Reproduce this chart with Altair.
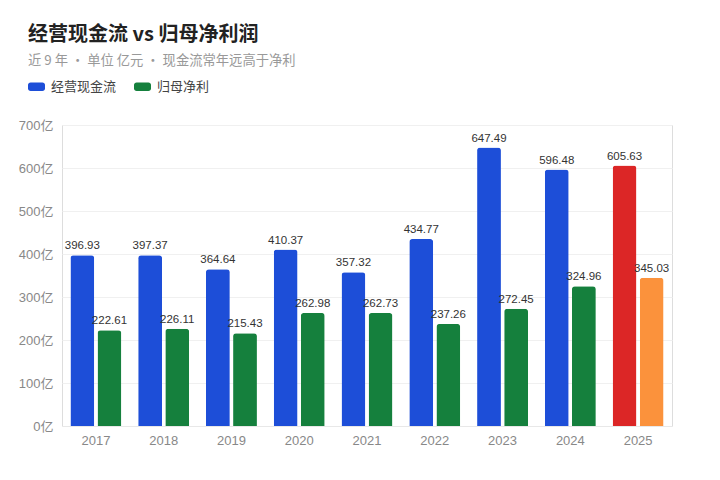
import altair as alt
import pandas as pd

years = ["2017", "2018", "2019", "2020", "2021", "2022", "2023", "2024", "2025"]
cash_flow = [396.93, 397.37, 364.64, 410.37, 357.32, 434.77, 647.49, 596.48, 605.63]
net_profit = [222.61, 226.11, 215.43, 262.98, 262.73, 237.26, 272.45, 324.96, 345.03]
series_names = ["经营现金流", "归母净利"]
highlight_year = "2025"
color_keys = ["经营现金流", "归母净利", "经营现金流 2025", "归母净利 2025"]
color_values = ["#1d4ed8", "#15803d", "#dc2626", "#fb923c"]

rows = []
for y, c, n in zip(years, cash_flow, net_profit):
    for s, v in zip(series_names, [c, n]):
        key = s if y != highlight_year else s + " 2025"
        rows.append({"year": y, "series": s, "value": v, "key": key})
df = pd.DataFrame(rows)

FONT = "Noto Sans CJK SC"
NUMFONT = "Liberation Sans, Noto Sans CJK SC"
legend_shape = ("M-0.7,-0.5 L0.7,-0.5 A0.3,0.3 0 0 1 1,-0.2 L1,0.2 A0.3,0.3 0 0 1 0.7,0.5 "
                "L-0.7,0.5 A0.3,0.3 0 0 1 -1,0.2 L-1,-0.2 A0.3,0.3 0 0 1 -0.7,-0.5 Z")

x_enc = alt.X("year:N", sort=years, title=None,
              scale=alt.Scale(paddingInner=0.248, paddingOuter=0.124),
              axis=alt.Axis(labelAngle=0, labelFontSize=13, labelColor="#888",
                            labelFont=NUMFONT, ticks=False, domain=True,
                            domainColor="#e8e8e8", labelPadding=8, grid=False))
xo_enc = alt.XOffset("series:N", sort=series_names,
                     scale=alt.Scale(paddingInner=0.12, paddingOuter=0))
y_enc = alt.Y("value:Q", title=None,
              scale=alt.Scale(domain=[0, 700]),
              axis=alt.Axis(values=[0, 100, 200, 300, 400, 500, 600, 700],
                            labelExpr="datum.value + '亿'", labelFontSize=13,
                            labelColor="#888", labelFont=NUMFONT, ticks=False,
                            domain=False, gridColor="#f0f0f0", labelPadding=9))

bars = alt.Chart(df).mark_bar(cornerRadiusTopLeft=3, cornerRadiusTopRight=3).encode(
    x=x_enc, xOffset=xo_enc, y=y_enc,
    color=alt.Color("key:N",
                    scale=alt.Scale(domain=color_keys, range=color_values),
                    legend=alt.Legend(values=series_names, title=None, orient="none",
                                      legendX=-34, legendY=-47, direction="horizontal",
                                      symbolType=legend_shape, symbolSize=289,
                                      symbolStrokeWidth=0, labelFontSize=13,
                                      labelColor="#444", labelFont=FONT,
                                      columnPadding=16, labelOffset=6)),
)

labels = alt.Chart(df).mark_text(baseline="bottom", dy=-4, fontSize=11.5,
                                 color="#333", font=NUMFONT).encode(
    x=alt.X("year:N", sort=years), xOffset=alt.XOffset("series:N", sort=series_names),
    y="value:Q",
    text=alt.Text("value:Q", format=".2f"),
)

chart = alt.layer(bars, labels).properties(
    width=610, height=301,
    autosize=alt.AutoSizeParams(type="none"),
    padding={"left": 54, "top": 117, "right": 40, "bottom": 46},
    title=alt.Title(
        text="经营现金流 vs 归母净利润",
        subtitle="近 9 年 · 单位 亿元 · 现金流常年远高于净利",
        anchor="start", frame="group", dx=-34, offset=11,
        font=FONT, fontSize=20, fontWeight="bold", color="#222",
        subtitleFont=FONT, subtitleFontSize=13.3, subtitleColor="#999",
        subtitlePadding=9,
    ),
).configure_view(stroke=None).configure(background="white")

chart.save("out.html", embed_options={"renderer": "svg", "actions": False})
